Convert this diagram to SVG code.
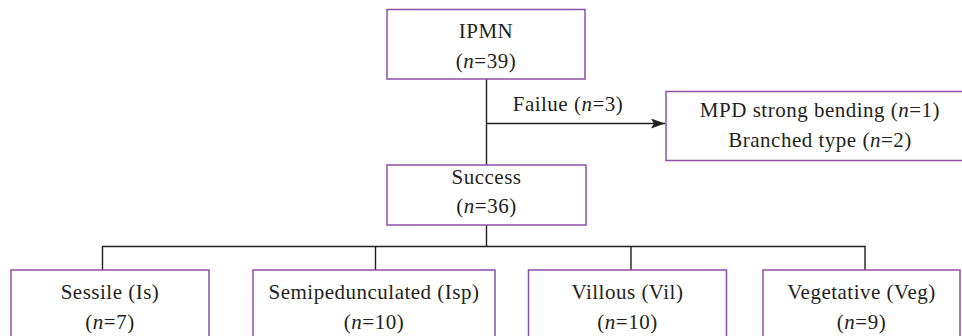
<svg xmlns="http://www.w3.org/2000/svg" width="962" height="336" viewBox="0 0 962 336">
<style>
.box{fill:#fff;stroke:#8e4fa6;stroke-width:1.5}
.t{font-family:"Liberation Serif","Times New Roman",serif;font-size:21px;letter-spacing:0.5px;fill:#231f20;text-anchor:middle}
.c{fill:none;stroke:#231f20;stroke-width:1.4}
</style>
<defs>
<marker id="ah" markerWidth="14" markerHeight="10" refX="14" refY="5" orient="auto" markerUnits="userSpaceOnUse">
<path d="M0,0 L14,5 L0,10 L3,5 Z" fill="#231f20"/>
</marker>
</defs>
<g id="connectors">
<line class="c" x1="486.5" y1="79" x2="486.5" y2="165"/>
<line class="c" x1="486.5" y1="123.5" x2="665" y2="123.5" marker-end="url(#ah)"/>
<text class="t" x="568" y="111">Failue (<tspan font-style="italic">n</tspan>=3)</text>
<line class="c" x1="486.5" y1="225" x2="486.5" y2="246.5"/>
<polyline class="c" points="102.5,270 102.5,246.5 865,246.5 865,270"/>
<line class="c" x1="375.5" y1="246.5" x2="375.5" y2="270"/>
<line class="c" x1="631" y1="246.5" x2="631" y2="270"/>
</g>
<g id="ipmn">
<rect class="box" x="387" y="9.5" width="198" height="69.5"/>
<text class="t" x="486" y="38">IPMN</text>
<text class="t" x="486" y="68">(<tspan font-style="italic">n</tspan>=39)</text>
</g>
<g id="failure">
<rect class="box" x="666" y="91.5" width="310" height="69"/>
<text class="t" x="820" y="117">MPD strong bending (<tspan font-style="italic">n</tspan>=1)</text>
<text class="t" x="820" y="147">Branched type (<tspan font-style="italic">n</tspan>=2)</text>
</g>
<g id="success">
<rect class="box" x="387" y="165" width="199" height="60"/>
<text class="t" x="486.5" y="184">Success</text>
<text class="t" x="486.5" y="213">(<tspan font-style="italic">n</tspan>=36)</text>
</g>
<g id="sessile">
<rect class="box" x="11" y="270" width="198" height="80"/>
<text class="t" x="110" y="299">Sessile (Is)</text>
<text class="t" x="110" y="329">(<tspan font-style="italic">n</tspan>=7)</text>
</g>
<g id="semipedunculated">
<rect class="box" x="253" y="270" width="242" height="80"/>
<text class="t" x="374" y="299">Semipedunculated (Isp)</text>
<text class="t" x="374" y="329">(<tspan font-style="italic">n</tspan>=10)</text>
</g>
<g id="villous">
<rect class="box" x="528.5" y="270" width="198" height="80"/>
<text class="t" x="627.5" y="299">Villous (Vil)</text>
<text class="t" x="627.5" y="329">(<tspan font-style="italic">n</tspan>=10)</text>
</g>
<g id="vegetative">
<rect class="box" x="763" y="270" width="197" height="80"/>
<text class="t" x="861.5" y="299">Vegetative (Veg)</text>
<text class="t" x="861.5" y="329">(<tspan font-style="italic">n</tspan>=9)</text>
</g>
</svg>
